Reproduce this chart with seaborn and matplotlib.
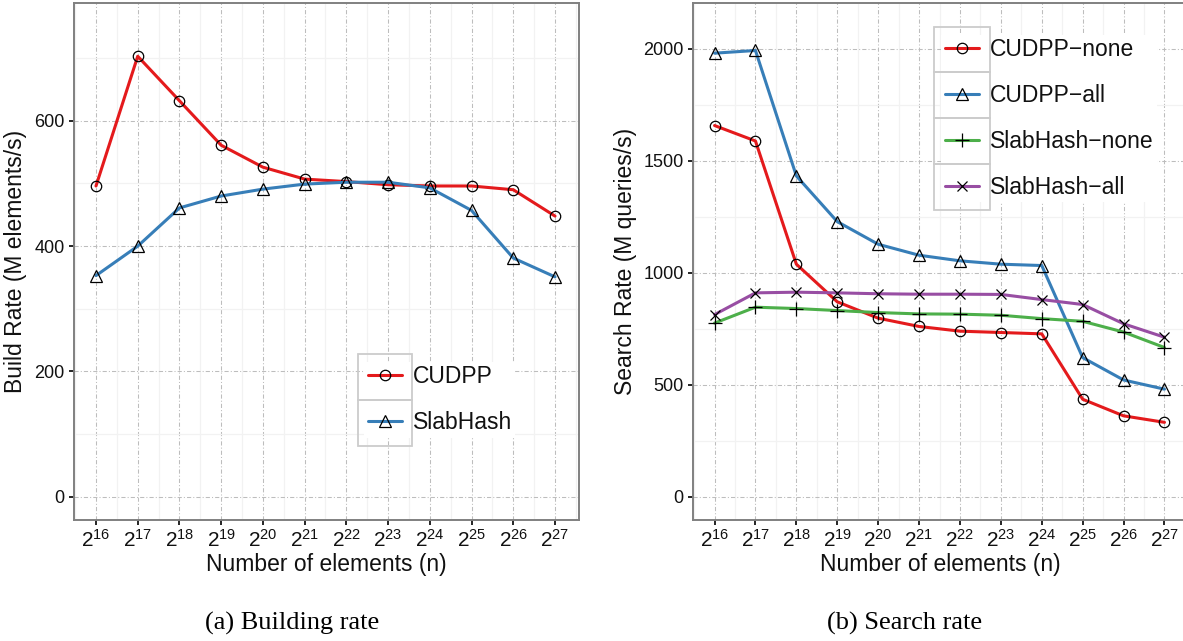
import matplotlib
matplotlib.use("Agg")
import matplotlib.pyplot as plt
import matplotlib.ticker as mticker
from matplotlib.patches import Rectangle
import numpy as np
import pandas as pd
import seaborn as sns

# ---------------- data ----------------
exponents = [16, 17, 18, 19, 20, 21, 22, 23, 24, 25, 26, 27]

build_cudpp = [496, 703, 632, 561, 526, 507, 503, 498, 496, 496, 490, 448]
build_slabhash = [353, 400, 461, 480, 491, 499, 502, 502, 493, 457, 381, 351]

search_cudpp_none = [1658, 1589, 1039, 871, 798, 761, 740, 734, 728, 436, 362, 333]
search_cudpp_all = [1981, 1993, 1433, 1229, 1128, 1079, 1054, 1039, 1033, 622, 522, 481]
search_slab_none = [776, 847, 841, 832, 823, 817, 816, 811, 796, 784, 736, 667]
search_slab_all = [814, 911, 914, 911, 907, 905, 905, 904, 881, 859, 773, 713]

build_ticks = [0, 200, 400, 600]
search_ticks = [0, 500, 1000, 1500, 2000]

xlabel = "Number of elements (n)"
build_ylabel = "Build Rate (M elements/s)"
search_ylabel = "Search Rate (M queries/s)"
build_caption = "(a) Building rate"
search_caption = "(b) Search rate"

# ---------------- style ----------------
sns.set_theme(style="white")
plt.rcParams["font.family"] = ["Liberation Sans", "DejaVu Sans"]
plt.rcParams["mathtext.fontset"] = "custom"
plt.rcParams["mathtext.rm"] = "Liberation Sans"
plt.rcParams["mathtext.it"] = "Liberation Sans:italic"
plt.rcParams["mathtext.bf"] = "Liberation Sans:bold"

RED, BLUE, GREEN, PURPLE = "#E41A1C", "#377EB8", "#4DAF4A", "#984EA3"

W, H = 1183, 641
fig = plt.figure(figsize=(W / 100, H / 100), dpi=100)
ax1 = fig.add_axes([74 / W, 121 / H, 505 / W, 517 / H])
ax2 = fig.add_axes([693 / W, 121 / H, 495 / W, 517 / H])

xs = np.arange(len(exponents))
xticklabels = [r"$\mathregular{2^{%d}}$" % e for e in exponents]


def draw(ax, y, color, marker, ms, label):
    df = pd.DataFrame({"x": xs, "y": y})
    sns.lineplot(data=df, x="x", y="y", ax=ax, color=color, linewidth=2.2,
                 marker=marker, markersize=ms, markerfacecolor="none",
                 markeredgecolor="black", markeredgewidth=0.9, label=label)


draw(ax1, build_cudpp, RED, "o", 7.5, "CUDPP")
draw(ax1, build_slabhash, BLUE, "^", 8.5, "SlabHash")

draw(ax2, search_cudpp_none, RED, "o", 7.5, "CUDPP\u2212none")
draw(ax2, search_cudpp_all, BLUE, "^", 8.5, "CUDPP\u2212all")
draw(ax2, search_slab_none, GREEN, "+", 10, "SlabHash\u2212none")
draw(ax2, search_slab_all, PURPLE, "x", 7.5, "SlabHash\u2212all")


def style_axes(ax, yticks, ylim, ylabel, ylab_x):
    ax.set_xlim(-0.527, len(exponents) - 1 + 0.575)
    ax.set_ylim(*ylim)
    ax.set_xticks(xs)
    ax.set_xticklabels(xticklabels)
    ax.set_yticks(yticks)
    step = yticks[1] - yticks[0]
    ax.xaxis.set_minor_locator(mticker.FixedLocator(np.arange(-0.5, len(exponents), 1.0)))
    ax.yaxis.set_minor_locator(mticker.FixedLocator(np.arange(yticks[0] - step / 2, ylim[1], step)))
    ax.grid(which="major", color="#bdbdbd", linestyle=(0, (4, 2, 1, 2)), linewidth=0.75)
    ax.grid(which="minor", color="#f2f2f2", linestyle="-", linewidth=0.9)
    ax.set_axisbelow(True)
    ax.tick_params(which="major", direction="out", length=3.8, width=1.2,
                   color="black", labelsize=13, labelcolor="#111111", pad=3,
                   bottom=True, left=True)
    ax.tick_params(axis="x", which="major", labelsize=15, pad=2.5)
    ax.tick_params(which="minor", length=0)
    for sp in ax.spines.values():
        sp.set_color("#808080")
        sp.set_linewidth(1.4)
    ax.set_xlabel(xlabel, fontsize=16.5, color="#111111", labelpad=2)
    ax.set_ylabel(ylabel, fontsize=16.5, color="#111111")
    ax.yaxis.set_label_coords(ylab_x, 0.5)


style_axes(ax1, build_ticks, (-37, 788), build_ylabel, -0.093)
style_axes(ax2, search_ticks, (-103, 2205), search_ylabel, -0.113)


def make_legend(ax, anchor):
    leg = ax.legend(loc="upper left", bbox_to_anchor=anchor, fontsize=16.5,
                    frameon=True, facecolor="white", edgecolor="none",
                    framealpha=1, fancybox=False, handlelength=1.5,
                    labelspacing=1.0, borderpad=0.15, handletextpad=0.45,
                    borderaxespad=0)
    for t in leg.get_texts():
        t.set_color("#111111")
    return leg


leg1 = make_legend(ax1, (0.575, 0.306))
leg2 = make_legend(ax2, (0.502, 0.939))

# key boxes around legend symbols (ggplot-like)
fig.canvas.draw()
renderer = fig.canvas.get_renderer()
for leg in (leg1, leg2):
    texts = leg.get_texts()
    lines = leg.get_lines()
    exts = [t.get_window_extent(renderer) for t in texts]
    centers = [e.y0 + e.height / 2 for e in exts]
    rowh = abs(centers[0] - centers[1])
    x0s = [l.get_window_extent(renderer).x0 for l in lines]
    x1s = [l.get_window_extent(renderer).x1 for l in lines]
    lx0 = min(x0s) - 4
    lx1 = max(x1s) + 4
    for c in centers:
        r = Rectangle((lx0 / W, (c - rowh / 2) / H), (lx1 - lx0) / W, rowh / H,
                      transform=fig.transFigure, facecolor="none",
                      edgecolor="#cccccc", linewidth=1.3, zorder=10)
        fig.add_artist(r)

fig.text(292 / W, 1 - 623 / H, build_caption, ha="center", va="center",
         family="Liberation Serif", fontsize=19, color="black")
fig.text(905 / W, 1 - 623 / H, search_caption, ha="center", va="center",
         family="Liberation Serif", fontsize=19, color="black")

fig.savefig("out.png", dpi=100)
